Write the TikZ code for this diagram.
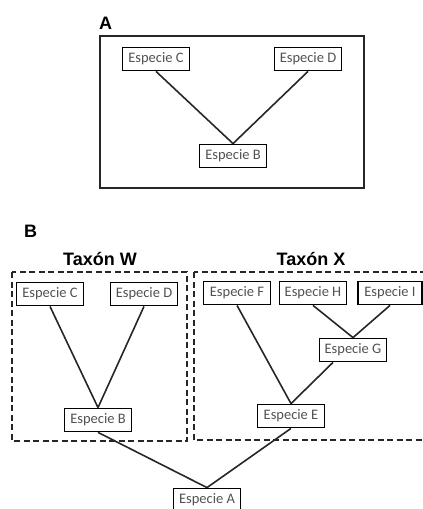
\documentclass[tikz,border=0pt]{standalone}
\usepackage{fontspec}
\setmainfont{Carlito}
\newfontfamily\headfont{Liberation Sans}
\usetikzlibrary{positioning}

\begin{document}
\begin{tikzpicture}[x=1pt, y=-1pt,
    especie/.style = {rectangle, draw=black, line width=1.8pt, fill=white,
                      minimum width=67pt, minimum height=23pt, inner sep=3pt,
                      font=\fontsize{14.5}{16}\selectfont, text=black!68},
    rama/.style = {line width=1.6pt, black!85},
    marco/.style = {draw=black!85, line width=1.8pt},
    taxon/.style = {draw=black!85, line width=1.7pt, dash pattern=on 6pt off 3.5pt},
    panel/.style = {font=\headfont\bfseries\fontsize{18}{20}\selectfont},
    titulo/.style = {font=\headfont\bfseries\fontsize{18}{20}\selectfont},
]
\useasboundingbox (0,0) rectangle (423,509);

%% ---- Panel A ----
\node[panel] (labA) at (105.5, 23.5) {A};
\draw[marco] (100, 36) rectangle (364, 188);

\node[especie] (aC) at (156, 59)  {Especie C};
\node[especie] (aD) at (308, 59)  {Especie D};
\node[especie] (aB) at (233, 156) {Especie B};

\draw[rama] (aC.south) -- (aB.north);
\draw[rama] (aD.south) -- (aB.north);

%% ---- Panel B: taxon frames ----
\node[panel] (labB) at (30.5, 231.5) {B};
\draw[taxon] (12, 272) rectangle (187, 441);
\draw[taxon] (194, 272) rectangle (427, 440);
\node[titulo] (tW) at (100, 259) {Taxón W};
\node[titulo] (tX) at (311, 259) {Taxón X};

%% ---- Panel B: species ----
\node[especie] (bC) at (50, 294)  {Especie C};
\node[especie] (bD) at (144, 294) {Especie D};
\node[especie] (bB) at (98, 420)  {Especie B};

\node[especie] (bF) at (237, 293) {Especie F};
\node[especie] (bH) at (313, 293) {Especie H};
\node[especie, minimum width=64pt] (bI) at (390, 293) {Especie I};
\node[especie] (bG) at (353, 350) {Especie G};
\node[especie] (bE) at (291, 416) {Especie E};

\node[especie] (bA) at (207, 500) {Especie A};

%% ---- Panel B: branches ----
\draw[rama] (bC.south) -- (bB.north);
\draw[rama] (bD.south) -- (bB.north);
\draw[rama] (bH.south) -- (bG.north);
\draw[rama] (bI.south) -- (bG.north);
\draw[rama] (bF.south) -- (bE.north);
\draw[rama] ([xshift=-20pt]bG.south) -- (bE.north);
\draw[rama] (bB.south) -- (bA.north);
\draw[rama] (bE.south) -- (bA.north);

\end{tikzpicture}
\end{document}
